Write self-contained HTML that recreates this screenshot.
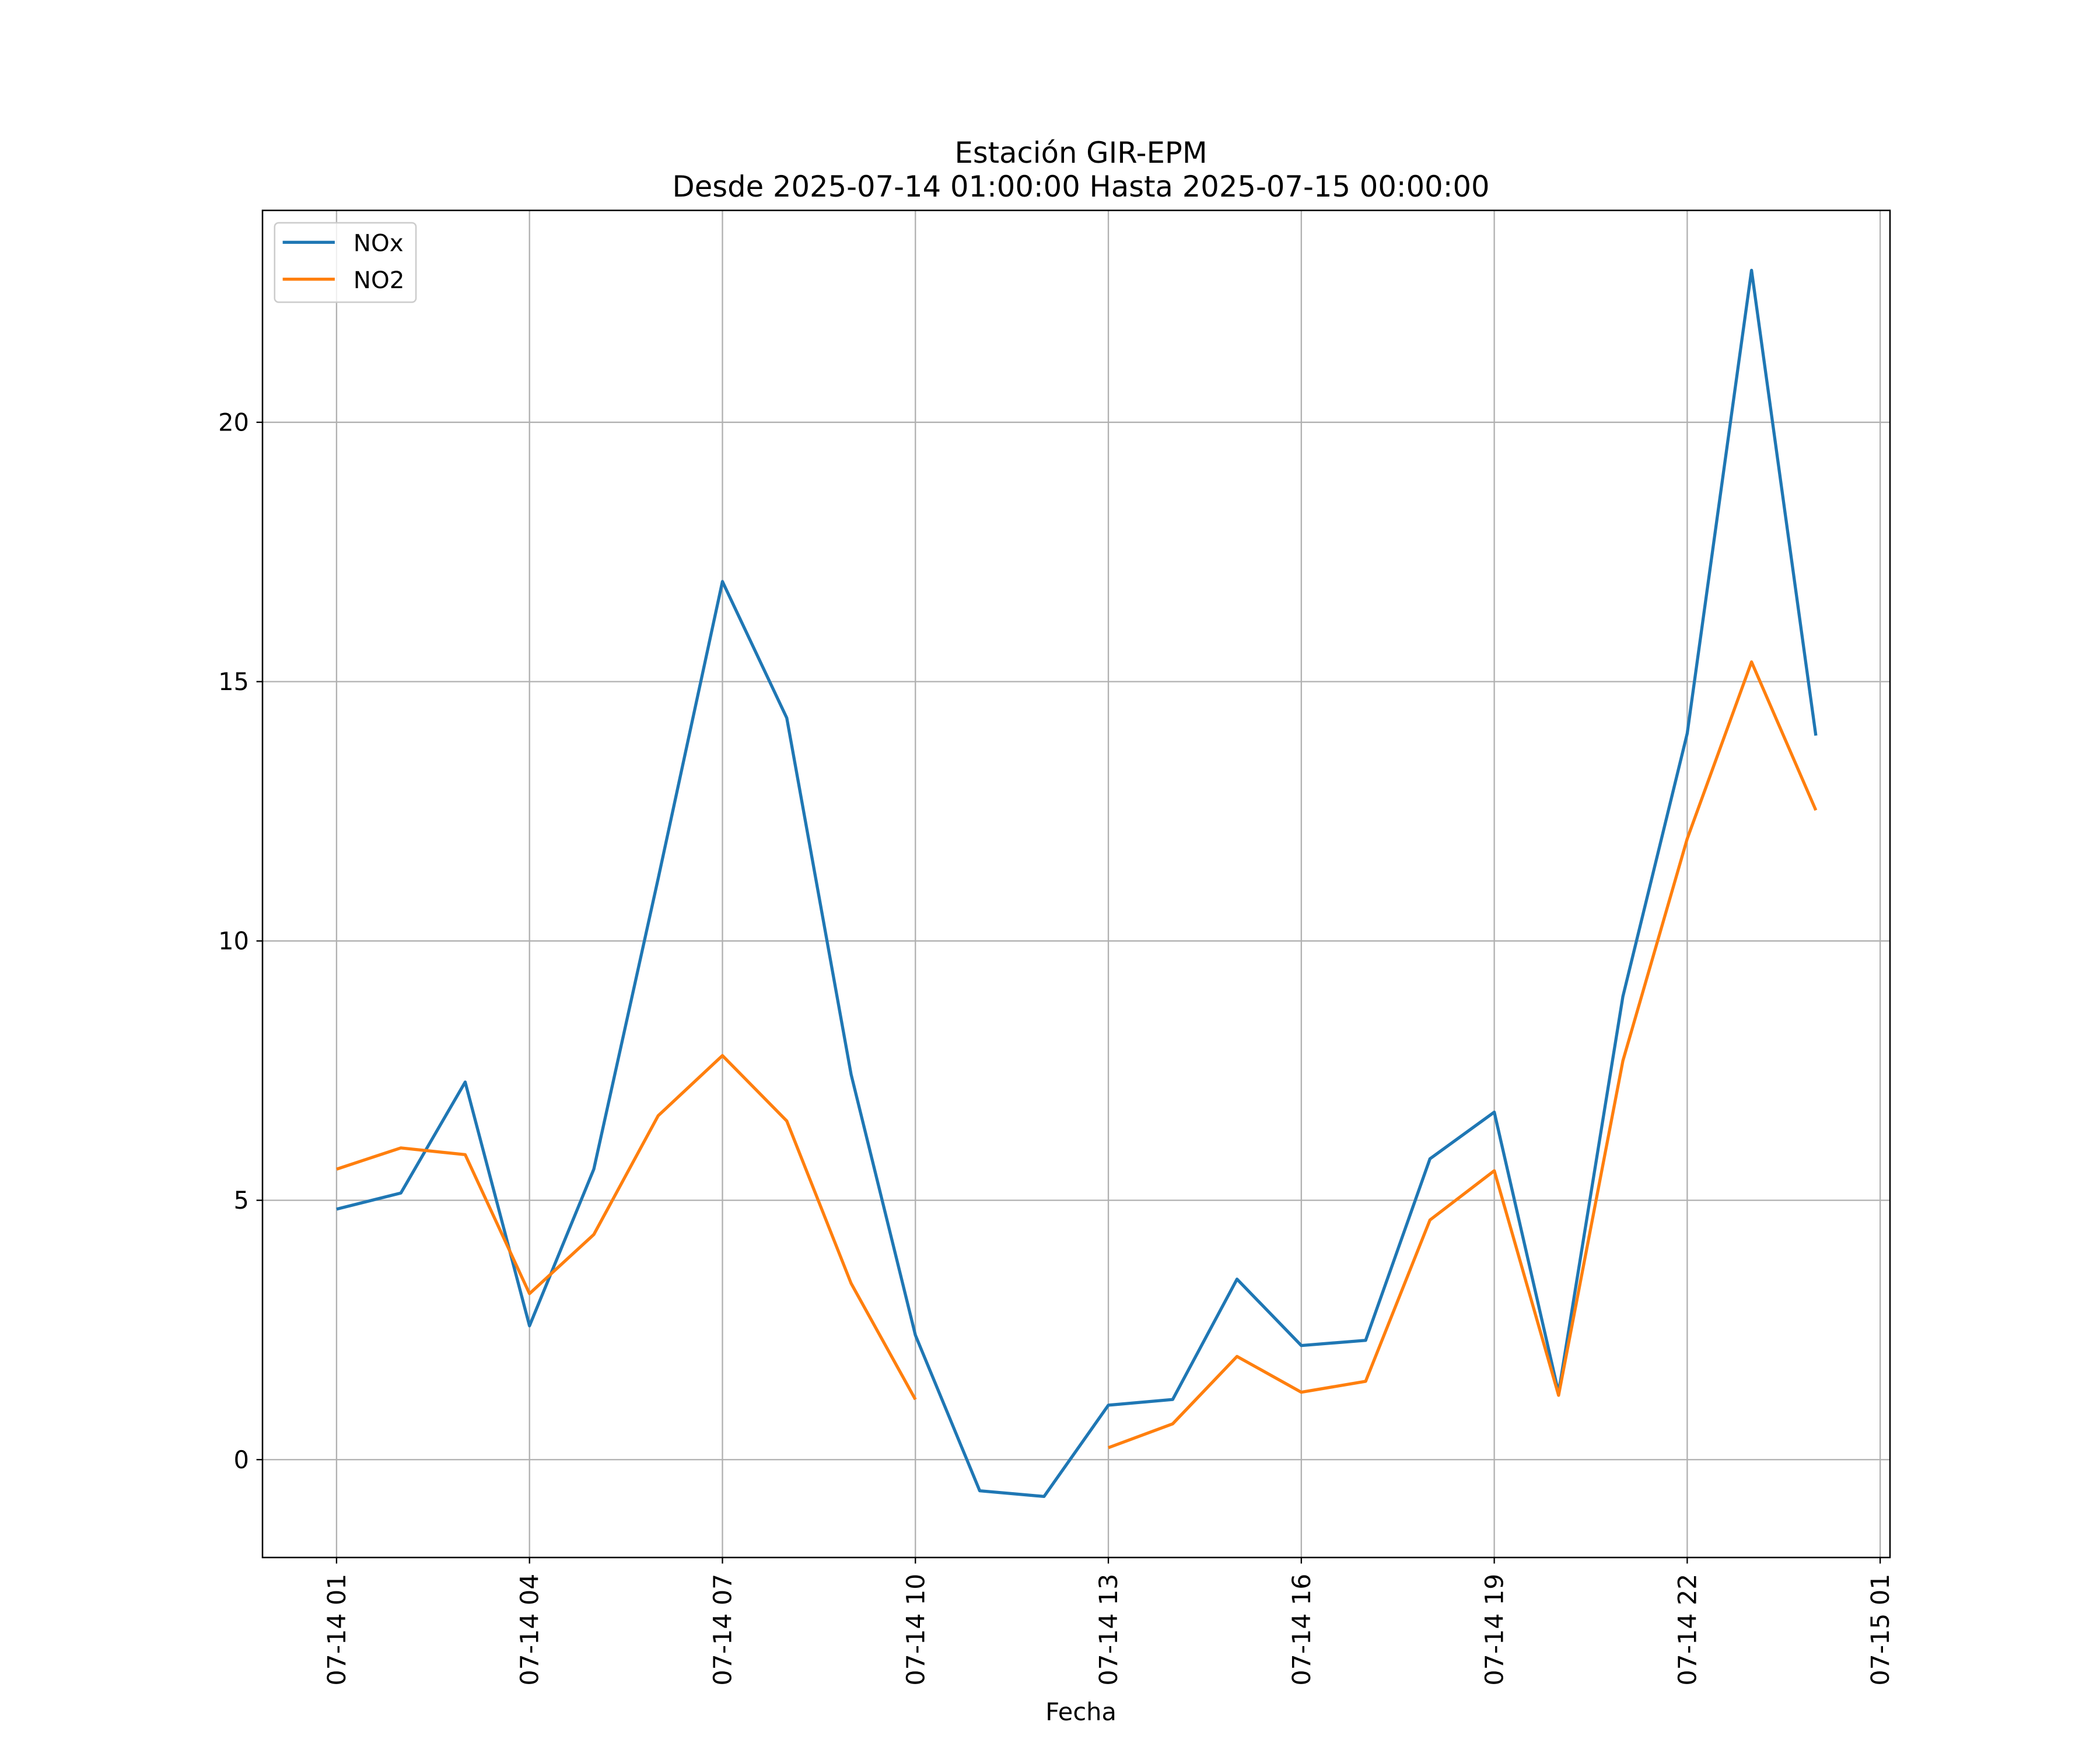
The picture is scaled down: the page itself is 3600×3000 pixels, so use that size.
<!DOCTYPE html>
<html><head><meta charset="utf-8"><style>
html,body{margin:0;padding:0;background:#fff;}
svg{display:block;font-family:"DejaVu Sans","Liberation Sans",sans-serif;}
</style></head><body>
<svg id="chart" width="3600" height="3000" viewBox="0 0 1560 1300" xmlns="http://www.w3.org/2000/svg">
<rect x="0" y="0" width="1560" height="1300" fill="#fff"/>
<g id="grid"></g>
<g id="series"></g>
<rect x="195" y="156.3" width="1209" height="1000.7" fill="none" stroke="#000" stroke-width="1.1"/>
<g id="ticks"></g>
<text x="803" y="121" font-size="21.5" text-anchor="middle">Estación GIR-EPM</text>
<text x="803" y="146" font-size="21.5" text-anchor="middle">Desde 2025-07-14 01:00:00 Hasta 2025-07-15 00:00:00</text>
<text x="803" y="1278" font-size="18" text-anchor="middle">Fecha</text>
<g>
<rect x="204" y="165.5" width="105" height="59" rx="3" fill="#fff" fill-opacity="0.8" stroke="#ccc" stroke-width="1.1"/>
<line x1="210" y1="180" x2="248.7" y2="180" stroke="#1f77b4" stroke-width="2.3"/>
<text x="262.5" y="186.5" font-size="17.5">NOx</text>
<line x1="210" y1="207.4" x2="248.7" y2="207.4" stroke="#ff7f0e" stroke-width="2.3"/>
<text x="262.5" y="214" font-size="17.5">NO2</text>
</g>
</svg>
<script>
const hours = [1,2,3,4,5,6,7,8,9,10,11,12,13,14,15,16,17,18,19,20,21,22,23,24];
const noxValues = [4.83,5.14,7.28,2.58,5.6,11.2,16.93,14.3,7.43,2.4,-0.6,-0.71,1.05,1.16,3.48,2.2,2.3,5.8,6.7,1.29,8.93,14.0,22.93,13.96];
const no2Values = [5.6,6.01,5.88,3.2,4.34,6.63,7.79,6.53,3.4,1.16,null,null,0.23,0.69,1.99,1.3,1.51,4.62,5.57,1.24,7.69,11.97,15.38,12.52];
const yTicks = [0,5,10,15,20];
const xTickHours = [1,4,7,10,13,16,19,22,25];
const xTickLabels = ["07-14 01","07-14 04","07-14 07","07-14 10","07-14 13","07-14 16","07-14 19","07-14 22","07-15 01"];

const NS = "http://www.w3.org/2000/svg";
const L = 195, R = 1404, T = 156.3, B = 1157;
function xs(h){ return 250 + (h-1)*(1396.7-250)/24; }
function ys(v){ return 1084.3 - v*(1084.3-313.7)/20; }
function mk(tag, attrs, parent){
  const el = document.createElementNS(NS, tag);
  for (const k in attrs) el.setAttribute(k, attrs[k]);
  parent.appendChild(el);
  return el;
}
const grid = document.getElementById('grid');
const ticks = document.getElementById('ticks');
const series = document.getElementById('series');

yTicks.forEach(v => {
  const y = ys(v);
  const g = mk('line', {x1:L, x2:R, y1:y, y2:y, stroke:'#b0b0b0', 'stroke-width':1}, grid);
  
  
  const t = mk('line', {x1:L-4.5, x2:L, y1:y, y2:y, stroke:'#000', 'stroke-width':1}, ticks);
  
  
  const lb = mk('text', {x:L-10, y:y+6.3, 'font-size':18, 'text-anchor':'end'}, ticks);
  lb.textContent = String(v);
  
  
});
xTickHours.forEach((h, i) => {
  const x = xs(h);
  const g = mk('line', {x1:x, x2:x, y1:T, y2:B, stroke:'#b0b0b0', 'stroke-width':1}, grid);
  
  
  const t = mk('line', {x1:x, x2:x, y1:B, y2:B+4.5, stroke:'#000', 'stroke-width':1}, ticks);
  
  
  const lb = mk('text', {x:0, y:0, 'font-size':18.5, 'text-anchor':'end', transform:'translate('+(x+6.5)+','+(B+12)+') rotate(-90)'}, ticks);
  lb.textContent = xTickLabels[i];
  
  
});
function drawSeries(vals, color, name){
  let segs = [], cur = [];
  vals.forEach((v, i) => {
    if (v === null) { if (cur.length) segs.push(cur); cur = []; }
    else cur.push(xs(hours[i]).toFixed(2)+','+ys(v).toFixed(2));
  });
  if (cur.length) segs.push(cur);
  segs.forEach(s => {
    const p = mk('polyline', {points:s.join(' '), fill:'none', stroke:color, 'stroke-width':2.3, 'stroke-linejoin':'round'}, series);
    
    
  });
}
drawSeries(noxValues, '#1f77b4', 'nox-line');
drawSeries(no2Values, '#ff7f0e', 'no2-line');
</script>
</body></html>
